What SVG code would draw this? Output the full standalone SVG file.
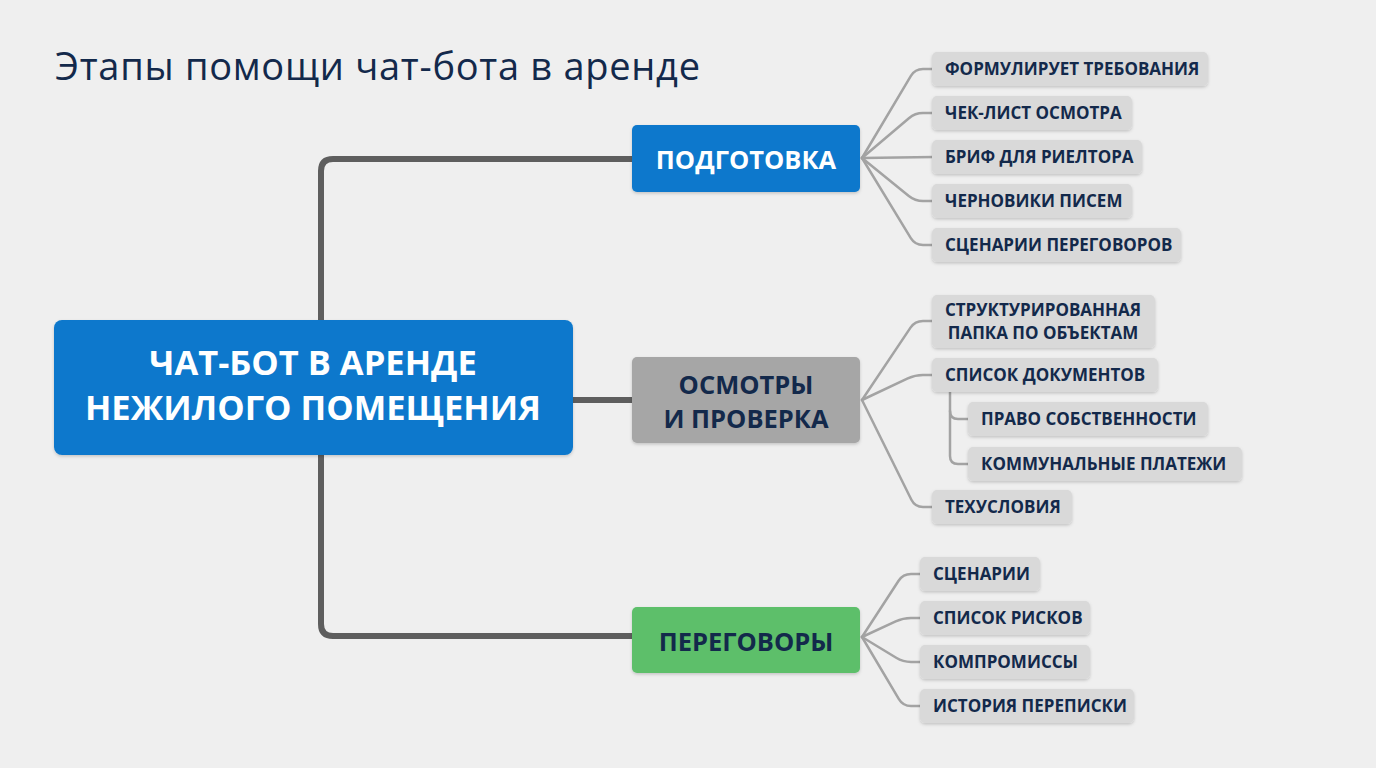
<svg xmlns="http://www.w3.org/2000/svg" width="1376" height="768" viewBox="0 0 1376 768">
  <defs>
    <filter id="sh" x="-10%" y="-20%" width="120%" height="150%">
      <feDropShadow dx="0" dy="1.5" stdDeviation="1.5" flood-color="#000" flood-opacity="0.18"/>
    </filter>
    <style>
      .title { font-family: "Open Sans", "Noto Sans", sans-serif; font-size: 38px; fill: #13294b; }
      .main { font-family: "Open Sans", "Noto Sans", sans-serif; font-weight: 700; font-size: 34.5px; fill: #ffffff; text-anchor: middle; }
      .stage { font-family: "Open Sans", "Noto Sans", sans-serif; font-weight: 700; font-size: 25.5px; text-anchor: middle; }
      .leaf { font-family: "Open Sans", "Noto Sans", sans-serif; font-weight: 700; font-size: 17px; fill: #13294b; }
      .leafbox { fill: #d9d9d9; filter: url(#sh); }
      .trunk { fill: none; stroke: #5e5e5e; stroke-width: 6; stroke-linecap: butt; }
      .twig { fill: none; stroke: #a3a3a3; stroke-width: 2.5; stroke-linecap: round; }
    </style>
  </defs>
  <rect width="1376" height="768" fill="#efefef"/>
  <text class="title" x="55" y="80" textLength="645" lengthAdjust="spacing">Этапы помощи чат-бота в аренде</text>

  <g id="connectors">
    <path class="trunk" d="M632,159 H333 Q321,159 321,171 V624 Q321,636 333,636 H632"/>
    <path class="trunk" d="M573,400 H632"/>
    <path class="twig" d="M862,158 L910.9,75.9 Q915,69 923,69 H934"/>
    <path class="twig" d="M862,158 L908.9,118.2 Q915,113 923,113 H934"/>
    <path class="twig" d="M862,158 L934,157"/>
    <path class="twig" d="M862,158 L908.8,196 Q915,201 923,201 H934"/>
    <path class="twig" d="M862,158 L910.8,238.2 Q915,245 923,245 H934"/>
    <path class="twig" d="M862,400 L910.5,327.6 Q915,321 923,321 H934"/>
    <path class="twig" d="M862,400 L907.8,378.4 Q915,375 923,375 H934"/>
    <path class="twig" d="M862,400 L911.4,499.8 Q915,507 923,507 H934"/>
    <path class="twig" d="M950,392 V456 Q950,464 958,464 H970"/>
    <path class="twig" d="M950,411 Q950,419 958,419 H970"/>
    <path class="twig" d="M862,637 L898.6,580.7 Q903,574 911,574 H922"/>
    <path class="twig" d="M862,637 L895.7,621.4 Q903,618 911,618 H922"/>
    <path class="twig" d="M862,637 L896.2,657.8 Q903,662 911,662 H922"/>
    <path class="twig" d="M862,637 L898.9,699.1 Q903,706 911,706 H922"/>
  </g>

  <g id="root">
    <rect x="54" y="320" width="519" height="135" rx="8" fill="#0b78cc" filter="url(#sh)"/>
    <text class="main" x="313" y="375">ЧАТ-БОТ В АРЕНДЕ</text>
    <text class="main" x="313" y="420">НЕЖИЛОГО ПОМЕЩЕНИЯ</text>
  </g>

  <g id="stage-prep">
    <rect x="632" y="125" width="228" height="67" rx="5" fill="#0b78cc" filter="url(#sh)"/>
    <text class="stage" x="746" y="169" fill="#ffffff">ПОДГОТОВКА</text>
  </g>
  <g id="stage-inspect">
    <rect x="632" y="357" width="228" height="86" rx="5" fill="#a6a6a6" filter="url(#sh)"/>
    <text class="stage" x="746" y="394" fill="#13294b">ОСМОТРЫ</text>
    <text class="stage" x="746" y="428" fill="#13294b">И ПРОВЕРКА</text>
  </g>
  <g id="stage-neg">
    <rect x="632" y="607" width="228" height="66" rx="5" fill="#5dbf6b" filter="url(#sh)"/>
    <text class="stage" x="746" y="651" fill="#13294b">ПЕРЕГОВОРЫ</text>
  </g>

  <g id="leaf-1"><rect class="leafbox" x="932" y="52" width="276" height="34" rx="5"/><text class="leaf" x="945" y="75">ФОРМУЛИРУЕТ ТРЕБОВАНИЯ</text></g>
  <g id="leaf-2"><rect class="leafbox" x="932" y="96" width="200" height="34" rx="5"/><text class="leaf" x="945" y="119">ЧЕК-ЛИСТ ОСМОТРА</text></g>
  <g id="leaf-3"><rect class="leafbox" x="932" y="140" width="210" height="34" rx="5"/><text class="leaf" x="945" y="163">БРИФ ДЛЯ РИЕЛТОРА</text></g>
  <g id="leaf-4"><rect class="leafbox" x="932" y="184" width="200" height="34" rx="5"/><text class="leaf" x="945" y="207">ЧЕРНОВИКИ ПИСЕМ</text></g>
  <g id="leaf-5"><rect class="leafbox" x="932" y="228" width="249" height="34" rx="5"/><text class="leaf" x="945" y="251">СЦЕНАРИИ ПЕРЕГОВОРОВ</text></g>

  <g id="leaf-6"><rect class="leafbox" x="932" y="295" width="223" height="53" rx="5"/><text class="leaf" x="1043" y="316" text-anchor="middle">СТРУКТУРИРОВАННАЯ</text><text class="leaf" x="1043" y="339" text-anchor="middle">ПАПКА ПО ОБЪЕКТАМ</text></g>
  <g id="leaf-7"><rect class="leafbox" x="932" y="358" width="226" height="34" rx="5"/><text class="leaf" x="945" y="381">СПИСОК ДОКУМЕНТОВ</text></g>
  <g id="leaf-8"><rect class="leafbox" x="968" y="402" width="240" height="34" rx="5"/><text class="leaf" x="981" y="425">ПРАВО СОБСТВЕННОСТИ</text></g>
  <g id="leaf-9"><rect class="leafbox" x="968" y="447" width="274" height="34" rx="5"/><text class="leaf" x="981" y="470">КОММУНАЛЬНЫЕ ПЛАТЕЖИ</text></g>
  <g id="leaf-10"><rect class="leafbox" x="932" y="490" width="140" height="34" rx="5"/><text class="leaf" x="945" y="513">ТЕХУСЛОВИЯ</text></g>

  <g id="leaf-11"><rect class="leafbox" x="920" y="557" width="120" height="34" rx="5"/><text class="leaf" x="933" y="580">СЦЕНАРИИ</text></g>
  <g id="leaf-12"><rect class="leafbox" x="920" y="601" width="170" height="34" rx="5"/><text class="leaf" x="933" y="624">СПИСОК РИСКОВ</text></g>
  <g id="leaf-13"><rect class="leafbox" x="920" y="645" width="170" height="34" rx="5"/><text class="leaf" x="933" y="668">КОМПРОМИССЫ</text></g>
  <g id="leaf-14"><rect class="leafbox" x="920" y="689" width="214" height="34" rx="5"/><text class="leaf" x="933" y="712">ИСТОРИЯ ПЕРЕПИСКИ</text></g>
</svg>
